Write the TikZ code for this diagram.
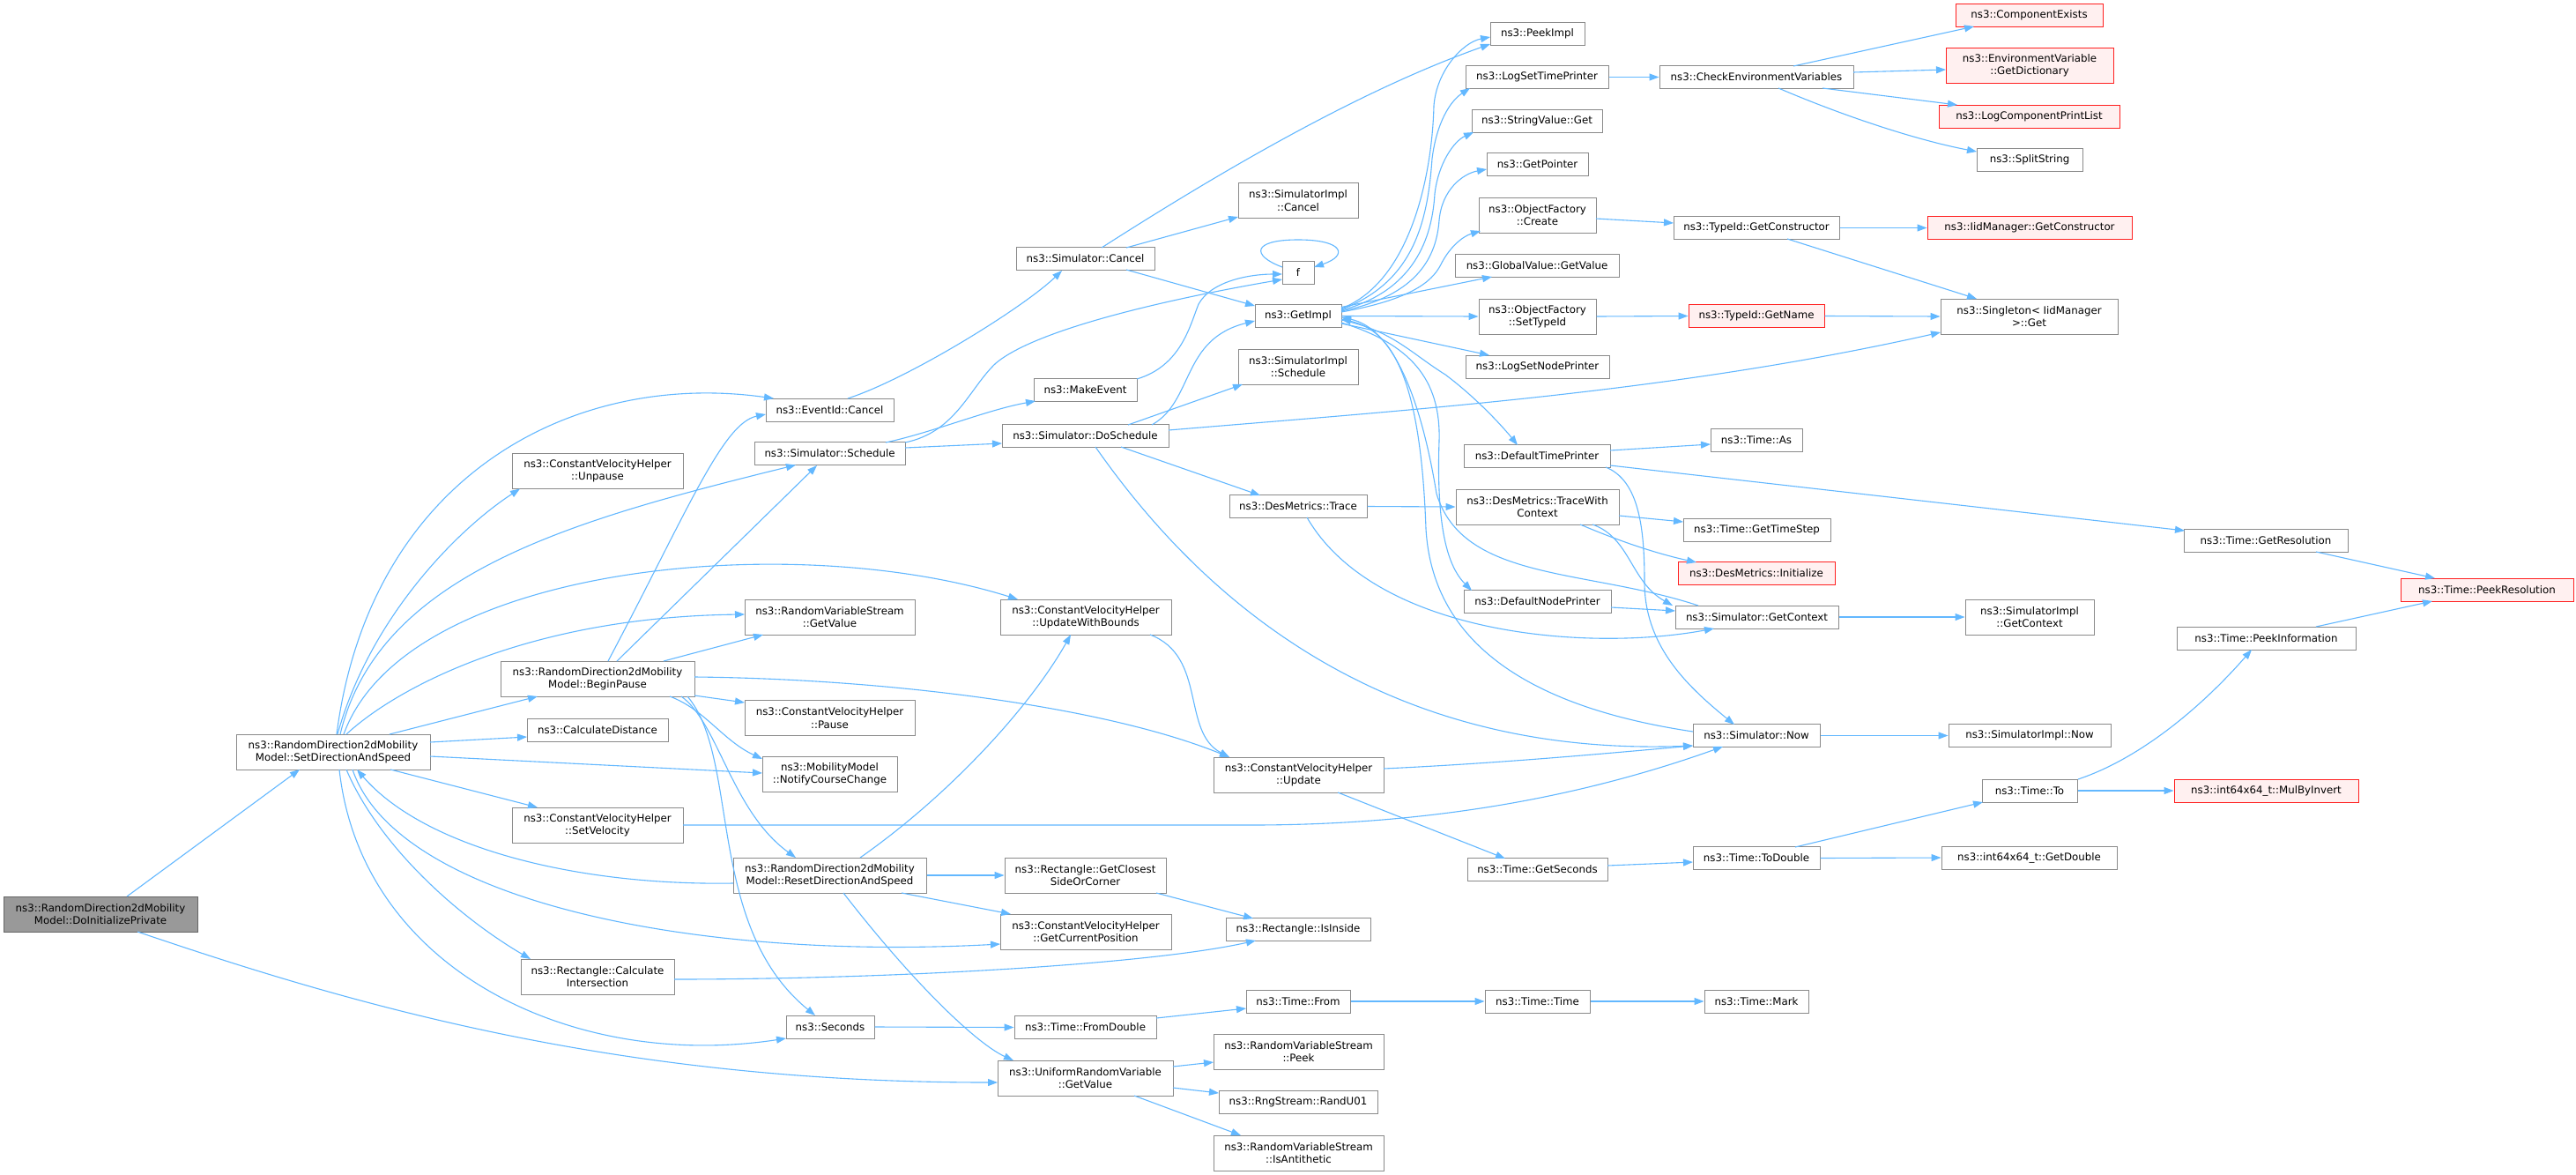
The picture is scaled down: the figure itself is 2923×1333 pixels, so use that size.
\documentclass[tikz,border=0pt]{standalone}
\usepackage{fontspec}
\newfontfamily\dvs{DejaVu Sans}
\usetikzlibrary{arrows.meta,calc}
\definecolor{edgec}{HTML}{63B8FF}
\definecolor{bordc}{HTML}{8A8A8A}
\definecolor{rootfill}{HTML}{999999}
\definecolor{rootbord}{HTML}{666666}
\definecolor{redfill}{HTML}{FFF0F0}
\definecolor{redbord}{HTML}{FF2020}
\newcommand\myp[3]{($(#1)+(#2,#3)$)}
\tikzset{
 nd/.style={draw=bordc, fill=white, line width=1pt, inner sep=0pt, align=center, font=\dvs\fontsize{11.8}{14.3}\selectfont, text=black},
 rednd/.style={nd, draw=redbord, fill=redfill},
 rootnd/.style={nd, draw=rootbord, fill=rootfill},
 edg/.style={draw=edgec, line width=1.1pt, -{Triangle[length=11pt,width=8pt]}},
 w/.style={minimum width=#1pt},
 h1/.style={minimum height=26pt},
 h2/.style={minimum height=40pt}
}
\begin{document}
\begin{tikzpicture}[x=1pt,y=-1pt]
\useasboundingbox (0,0) rectangle (2923,1333);
\fill[white] (0,0) rectangle (2923,1333);
% nodes
\node[rootnd,w=220,h2] (dip) at (114,1037) {ns3::RandomDirection2dMobility\\Model::DoInitializePrivate};
\node[nd,w=220,h2] (sds) at (378,853) {ns3::RandomDirection2dMobility\\Model::SetDirectionAndSpeed};
\node[nd,w=194,h2] (unp) at (678,534.5) {ns3::ConstantVelocityHelper\\::Unpause};
\node[nd,w=220,h2] (bp) at (678,770) {ns3::RandomDirection2dMobility\\Model::BeginPause};
\node[nd,w=160,h1] (cd) at (678,828) {ns3::CalculateDistance};
\node[nd,w=194,h2] (sv) at (678,936) {ns3::ConstantVelocityHelper\\::SetVelocity};
\node[nd,w=174,h2] (ci) at (678,1108) {ns3::Rectangle::Calculate\\Intersection};
\node[nd,w=145,h1] (ec) at (941.5,465) {ns3::EventId::Cancel};
\node[nd,w=171,h1] (ss) at (941.5,514.5) {ns3::Simulator::Schedule};
\node[nd,w=193,h2] (rvsg) at (941.5,700) {ns3::RandomVariableStream\\::GetValue};
\node[nd,w=193,h2] (pause) at (941.5,814.5) {ns3::ConstantVelocityHelper\\::Pause};
\node[nd,w=153,h2] (ncc) at (941.5,878.5) {ns3::MobilityModel\\::NotifyCourseChange};
\node[nd,w=219,h2] (rds) at (941.5,993) {ns3::RandomDirection2dMobility\\Model::ResetDirectionAndSpeed};
\node[nd,w=100,h1] (sec) at (942,1165) {ns3::Seconds};
\node[nd,w=157,h1] (sc) at (1231.5,293.5) {ns3::Simulator::Cancel};
\node[nd,w=117,h1] (me) at (1231.5,442.5) {ns3::MakeEvent};
\node[nd,w=189,h1] (ds) at (1231.5,494.5) {ns3::Simulator::DoSchedule};
\node[nd,w=194,h2] (uwb) at (1232,700) {ns3::ConstantVelocityHelper\\::UpdateWithBounds};
\node[nd,w=183,h2] (gcs) at (1231.5,993) {ns3::Rectangle::GetClosest\\SideOrCorner};
\node[nd,w=194,h2] (gcp) at (1232,1057) {ns3::ConstantVelocityHelper\\::GetCurrentPosition};
\node[nd,w=161,h1] (fd) at (1231.5,1165.5) {ns3::Time::FromDouble};
\node[nd,w=199,h2] (urv) at (1231.5,1223) {ns3::UniformRandomVariable\\::GetValue};
\node[nd,w=136,h2] (sic) at (1473,227.5) {ns3::SimulatorImpl\\::Cancel};
\node[nd,w=36,h1] (f) at (1473,309) {f};
\node[nd,w=98,h1] (gi) at (1473,358.5) {ns3::GetImpl};
\node[nd,w=136,h2] (sis) at (1473,416) {ns3::SimulatorImpl\\::Schedule};
\node[nd,w=156,h1] (dmt) at (1473,574.5) {ns3::DesMetrics::Trace};
\node[nd,w=193,h2] (upd) at (1473.5,879) {ns3::ConstantVelocityHelper\\::Update};
\node[nd,w=164,h1] (ii) at (1473,1054.5) {ns3::Rectangle::IsInside};
\node[nd,w=118,h1] (tf) at (1473,1136) {ns3::Time::From};
\node[nd,w=193,h2] (peek) at (1473.5,1193) {ns3::RandomVariableStream\\::Peek};
\node[nd,w=180,h1] (ru) at (1473,1250.5) {ns3::RngStream::RandU01};
\node[nd,w=193,h2] (anti) at (1473.5,1308) {ns3::RandomVariableStream\\::IsAntithetic};
\node[nd,w=107,h1] (pi) at (1744.5,38.5) {ns3::PeekImpl};
\node[nd,w=162,h1] (lstp) at (1744,87.5) {ns3::LogSetTimePrinter};
\node[nd,w=148,h1] (svg) at (1744,137.5) {ns3::StringValue::Get};
\node[nd,w=115,h1] (gp) at (1744.5,186.5) {ns3::GetPointer};
\node[nd,w=133,h2] (ofc) at (1744.5,244) {ns3::ObjectFactory\\::Create};
\node[nd,w=186,h1] (gvg) at (1744,301.5) {ns3::GlobalValue::GetValue};
\node[nd,w=133,h2] (ofs) at (1744.5,359) {ns3::ObjectFactory\\::SetTypeId};
\node[nd,w=163,h1] (lsnp) at (1744.5,416) {ns3::LogSetNodePrinter};
\node[nd,w=166,h1] (dtp) at (1744,517.5) {ns3::DefaultTimePrinter};
\node[nd,w=185,h2] (twc) at (1744.5,575) {ns3::DesMetrics::TraceWith\\Context};
\node[nd,w=167,h1] (dnp) at (1744.5,682.5) {ns3::DefaultNodePrinter};
\node[nd,w=159,h1] (gs) at (1744.5,986.5) {ns3::Time::GetSeconds};
\node[nd,w=119,h1] (tt) at (1744.5,1136) {ns3::Time::Time};
\node[nd,w=220,h1] (cev) at (1993,87.5) {ns3::CheckEnvironmentVariables};
\node[nd,w=188,h1] (tgc) at (1993,258.5) {ns3::TypeId::GetConstructor};
\node[rednd,w=154,h1] (tgn) at (1993,358.5) {ns3::TypeId::GetName};
\node[nd,w=104,h1] (tas) at (1993,499.5) {ns3::Time::As};
\node[nd,w=167,h1] (gts) at (1993.5,601.5) {ns3::Time::GetTimeStep};
\node[rednd,w=178,h1] (dmi) at (1993,650.5) {ns3::DesMetrics::Initialize};
\node[nd,w=185,h1] (sgc) at (1993.5,700) {ns3::Simulator::GetContext};
\node[nd,w=144,h1] (snow) at (1993,834.5) {ns3::Simulator::Now};
\node[nd,w=144,h1] (td) at (1993,973.5) {ns3::Time::ToDouble};
\node[nd,w=118,h1] (tm) at (1993,1136) {ns3::Time::Mark};
\node[rednd,w=167,h1] (ce) at (2302.5,17) {ns3::ComponentExists};
\node[rednd,w=190,h2] (gd) at (2303,74.5) {ns3::EnvironmentVariable\\::GetDictionary};
\node[rednd,w=205,h1] (lcpl) at (2302.5,132) {ns3::LogComponentPrintList};
\node[nd,w=120,h1] (ssplit) at (2303,181.5) {ns3::SplitString};
\node[rednd,w=232,h1] (igc) at (2303,258.5) {ns3::IidManager::GetConstructor};
\node[nd,w=201,h2] (sing) at (2302.5,359) {ns3::Singleton\textless{} IidManager\\\textgreater::Get};
\node[nd,w=146,h2] (sigc) at (2303,700) {ns3::SimulatorImpl\\::GetContext};
\node[nd,w=184,h1] (sinow) at (2303,834.5) {ns3::SimulatorImpl::Now};
\node[nd,w=108,h1] (tto) at (2303,897) {ns3::Time::To};
\node[nd,w=199,h1] (gdbl) at (2302.5,973) {ns3::int64x64\_t::GetDouble};
\node[nd,w=186,h1] (gres) at (2571,613) {ns3::Time::GetResolution};
\node[nd,w=203,h1] (pinf) at (2571.5,724) {ns3::Time::PeekInformation};
\node[rednd,w=209,h1] (mbi) at (2571.5,897) {ns3::int64x64\_t::MulByInvert};
\node[rednd,w=196,h1] (pres) at (2822,669) {ns3::Time::PeekResolution};
% edges
\draw[edg] \myp{dip}{30}{-20} -- \myp{sds}{-38}{20};
\draw[edg] \myp{dip}{42}{20} .. controls (400,1140) and (700,1228) .. \myp{urv}{-99.5}{5};
\draw[edg] \myp{sds}{4}{-20} .. controls (420,540) and (650,420) .. \myp{ec}{-63.5}{-13};
\draw[edg] \myp{sds}{5}{-20} .. controls (420,700) and (520,600) .. \myp{unp}{-88}{20};
\draw[edg] \myp{sds}{8}{-20} .. controls (430,650) and (650,590) .. \myp{ss}{-38.5}{13};
\draw[edg] \myp{sds}{12}{-20} .. controls (460,640) and (900,600) .. \myp{uwb}{-77}{-20};
\draw[edg] \myp{sds}{15}{-20} .. controls (450,780) and (600,700) .. \myp{rvsg}{-96.5}{-3};
\draw[edg] \myp{sds}{64}{-20} -- \myp{bp}{-68}{20};
\draw[edg] \myp{sds}{110}{-11} -- \myp{cd}{-80}{8};
\draw[edg] \myp{sds}{110}{5} -- \myp{ncc}{-76.5}{-1.5};
\draw[edg] \myp{sds}{65}{20} -- \myp{sv}{-68}{-20};
\draw[edg] \myp{sds}{22}{20} .. controls (450,1020) and (780,1090) .. \myp{gcp}{-97}{14};
\draw[edg] \myp{sds}{15}{20} .. controls (430,960) and (520,1040) .. \myp{ci}{-76}{-20};
\draw[edg] \myp{sds}{7}{20} .. controls (410,1100) and (650,1215) .. \myp{sec}{-50}{13};
\draw[edg] \myp{rds}{-109.5}{9} .. controls (650,1005) and (480,960) .. \myp{sds}{27}{20};
\draw[edg] \myp{bp}{12}{-20} .. controls (780,580) and (820,480) .. \myp{ec}{-72.5}{5};
\draw[edg] \myp{bp}{22}{-20} -- \myp{ss}{-14.5}{13.5};
\draw[edg] \myp{bp}{75}{-20} -- \myp{rvsg}{-75.5}{20};
\draw[edg] \myp{bp}{110}{-2} .. controls (1000,770) and (1250,800) .. \myp{upd}{-78.5}{-20};
\draw[edg] \myp{bp}{110}{19} -- \myp{pause}{-96.5}{-17.5};
\draw[edg] \myp{bp}{82}{20} .. controls (800,805) and (820,840) .. \myp{ncc}{-76.5}{-17.5};
\draw[edg] \myp{bp}{95}{20} .. controls (815,820) and (830,920) .. \myp{rds}{-38.5}{-20};
\draw[edg] \myp{bp}{102}{20} .. controls (840,860) and (800,1050) .. \myp{sec}{-17}{-13};
\draw[edg] \myp{rds}{34.5}{-20} .. controls (1080,900) and (1170,800) .. \myp{uwb}{-17}{20};
\draw[edg] (rds.east) -- (gcs.west);
\draw[edg] \myp{rds}{81.5}{20} -- \myp{gcp}{-85}{-20};
\draw[edg] \myp{rds}{15.5}{20} .. controls (1040,1120) and (1110,1185) .. \myp{urv}{-81.5}{-20};
\draw[edg] \myp{ci}{87}{3} .. controls (1000,1111) and (1300,1095) .. \myp{ii}{-48}{12.5};
\draw[edg] \myp{gcs}{80.5}{20} -- \myp{ii}{-51}{-12.5};
\draw[edg] (sec.east) -- (fd.west);
\draw[edg] \myp{fd}{80.5}{-10.5} -- \myp{tf}{-59}{8};
\draw[edg] (tf.east) -- (tt.west);
\draw[edg] (tt.east) -- (tm.west);
\draw[edg] \myp{urv}{99.5}{-13} -- \myp{peek}{-96.5}{12};
\draw[edg] \myp{urv}{99.5}{11} -- \myp{ru}{-90}{-10.5};
\draw[edg] \myp{urv}{55.5}{20} -- \myp{anti}{-65.5}{-20};
\draw[edg] \myp{sv}{97}{0} -- (1420,936) .. controls (1650,936) and (1820,895) .. \myp{snow}{-38}{12.5};
\draw[edg] \myp{ec}{20.5}{-13} .. controls (1030,430) and (1160,350) .. \myp{sc}{-26.5}{13.5};
\draw[edg] \myp{ss}{63.5}{-12.5} .. controls (1060,490) and (1120,465) .. \myp{me}{-56.5}{12.5};
\draw[edg] \myp{ss}{85.5}{-6.5} -- \myp{ds}{-94.5}{8.5};
\draw[edg] \myp{ss}{85.5}{-12.5} .. controls (1085,490) and (1100,440) .. (1130,412) .. controls (1180,370) and (1350,335) .. \myp{f}{-18}{8};
\draw[edg] \myp{me}{58.5}{-12.5} .. controls (1340,415) and (1350,370) .. (1360,345) .. controls (1375,318) and (1420,311) .. \myp{f}{-18}{2};
\draw[edg] \myp{f}{-18}{-6} .. controls (1420,290) and (1420,272) .. (1473,272) .. controls (1525,272) and (1530,290) .. \myp{f}{18}{-6};
\draw[edg] \myp{sc}{46.5}{-12.5} -- \myp{sic}{-68}{18.5};
\draw[edg] \myp{sc}{46.5}{12.5} -- \myp{gi}{-49}{-11.5};
\draw[edg] \myp{sc}{18.5}{-12.5} .. controls (1400,185) and (1550,100) .. \myp{pi}{-53.5}{11.5};
\draw[edg] \myp{ds}{75.5}{-12.5} .. controls (1355,455) and (1340,385) .. \myp{gi}{-49}{5.5};
\draw[edg] \myp{ds}{48.5}{-12.5} -- \myp{sis}{-63}{20};
\draw[edg] \myp{ds}{40.5}{12.5} -- \myp{dmt}{-43}{-12.5};
\draw[edg] \myp{ds}{11.5}{12.5} .. controls (1350,660) and (1550,860) .. \myp{snow}{-72}{11.5};
\draw[edg] \myp{ds}{94.5}{-6.5} .. controls (1600,465) and (1900,445) .. \myp{sing}{-100.5}{18};
\draw[edg] (dmt.east) -- (twc.west);
\draw[edg] \myp{dmt}{10}{12.5} .. controls (1560,720) and (1800,740) .. \myp{sgc}{-48.5}{13};
\draw[edg] \myp{uwb}{73}{20} .. controls (1370,745) and (1340,830) .. \myp{upd}{-78.5}{-20};
\draw[edg] \myp{upd}{96.5}{-7} .. controls (1700,866) and (1820,855) .. \myp{snow}{-72}{11.5};
\draw[edg] \myp{upd}{44.5}{20} -- \myp{gs}{-36.5}{-12.5};
\draw[edg] (snow.east) -- (sinow.west);
\draw[edg] \myp{snow}{-72}{-4.5} .. controls (1720,800) and (1625,720) .. (1618,600) .. controls (1612,430) and (1580,375) .. \myp{gi}{49}{3.5};
\draw[edg] \myp{sgc}{-66.5}{-13} .. controls (1800,645) and (1660,660) .. (1630,560) .. controls (1612,450) and (1580,372) .. \myp{gi}{49}{1.5};
\draw[edg] (sgc.east) -- (sigc.west);
\draw[edg] \myp{gi}{49}{-8.5} .. controls (1600,320) and (1625,200) .. (1627,120) .. controls (1630,80) and (1660,48) .. \myp{pi}{-53.5}{3.5};
\draw[edg] \myp{gi}{49}{-7.5} .. controls (1605,320) and (1620,250) .. (1625,180) .. controls (1630,140) and (1645,115) .. \myp{lstp}{-76}{12.5};
\draw[edg] \myp{gi}{49}{-6.5} .. controls (1605,330) and (1625,270) .. (1628,220) .. controls (1632,185) and (1650,160) .. \myp{svg}{-72}{12.5};
\draw[edg] \myp{gi}{49}{-5.5} .. controls (1610,335) and (1630,290) .. (1633,250) .. controls (1636,215) and (1660,197) .. \myp{gp}{-57.5}{5.5};
\draw[edg] \myp{gi}{49}{-4.5} .. controls (1600,340) and (1625,320) .. (1635,300) .. controls (1645,280) and (1660,268) .. \myp{ofc}{-64.5}{18};
\draw[edg] \myp{gi}{49}{-10} -- \myp{gvg}{-51}{12.5};
\draw[edg] (gi.east) -- (ofs.west);
\draw[edg] \myp{gi}{49}{8.5} -- \myp{lsnp}{-54.5}{-13};
\draw[edg] \myp{gi}{49}{4.5} .. controls (1580,375) and (1600,400) .. (1640,425) .. controls (1680,455) and (1710,490) .. \myp{dtp}{-22}{-12.5};
\draw[edg] \myp{gi}{49}{7.5} .. controls (1600,390) and (1635,430) .. (1633,500) .. controls (1630,590) and (1640,640) .. \myp{dnp}{-74.5}{-12.5};
\draw[edg] \myp{twc}{92.5}{10} -- \myp{gts}{-83.5}{-9.5};
\draw[edg] \myp{twc}{48.5}{20} .. controls (1840,615) and (1880,628) .. \myp{dmi}{-68}{-12.5};
\draw[edg] \myp{twc}{62.5}{20} .. controls (1850,610) and (1850,660) .. \myp{sgc}{-95.5}{-13};
\draw[edg] \myp{dtp}{83}{-6.5} -- \myp{tas}{-52}{4.5};
\draw[edg] \myp{dtp}{83}{10.5} -- \myp{gres}{-92}{-11};
\draw[edg] \myp{dtp}{78}{12.5} .. controls (1860,545) and (1866,600) .. (1866,660) .. controls (1866,730) and (1910,775) .. \myp{snow}{-25}{-12.5};
\draw[edg] \myp{dnp}{83.5}{6.5} -- \myp{sgc}{-92.5}{-7};
\draw[edg] \myp{gs}{79.5}{-4.5} -- \myp{td}{-72}{4.5};
\draw[edg] (td.east) -- (gdbl.west);
\draw[edg] \myp{td}{44}{-12.5} -- \myp{tto}{-53}{13};
\draw[edg] (tto.east) -- (mbi.west);
\draw[edg] \myp{tto}{55}{-13} .. controls (2430,860) and (2500,800) .. \myp{pinf}{-16.5}{13};
\draw[edg] \myp{pinf}{56.5}{-13} -- \myp{pres}{-62}{13};
\draw[edg] \myp{gres}{57}{13} -- \myp{pres}{-59}{-13};
\draw[edg] (lstp.east) -- (cev.west);
\draw[edg] \myp{cev}{42}{-12.5} -- \myp{ce}{-62.5}{13};
\draw[edg] \myp{cev}{110}{-5.5} -- \myp{gd}{-95}{4.5};
\draw[edg] \myp{cev}{75}{12.5} -- \myp{lcpl}{-81.5}{-13};
\draw[edg] \myp{cev}{25}{12.5} .. controls (2100,135) and (2180,160) .. \myp{ssplit}{-60}{-9.5};
\draw[edg] \myp{ofc}{66.5}{4} -- \myp{tgc}{-94}{-5.5};
\draw[edg] (tgc.east) -- (igc.west);
\draw[edg] \myp{tgc}{35}{12.5} -- \myp{sing}{-59.5}{-20};
\draw[edg] (ofs.east) -- (tgn.west);
\draw[edg] (tgn.east) -- (sing.west);
\end{tikzpicture}
\end{document}
